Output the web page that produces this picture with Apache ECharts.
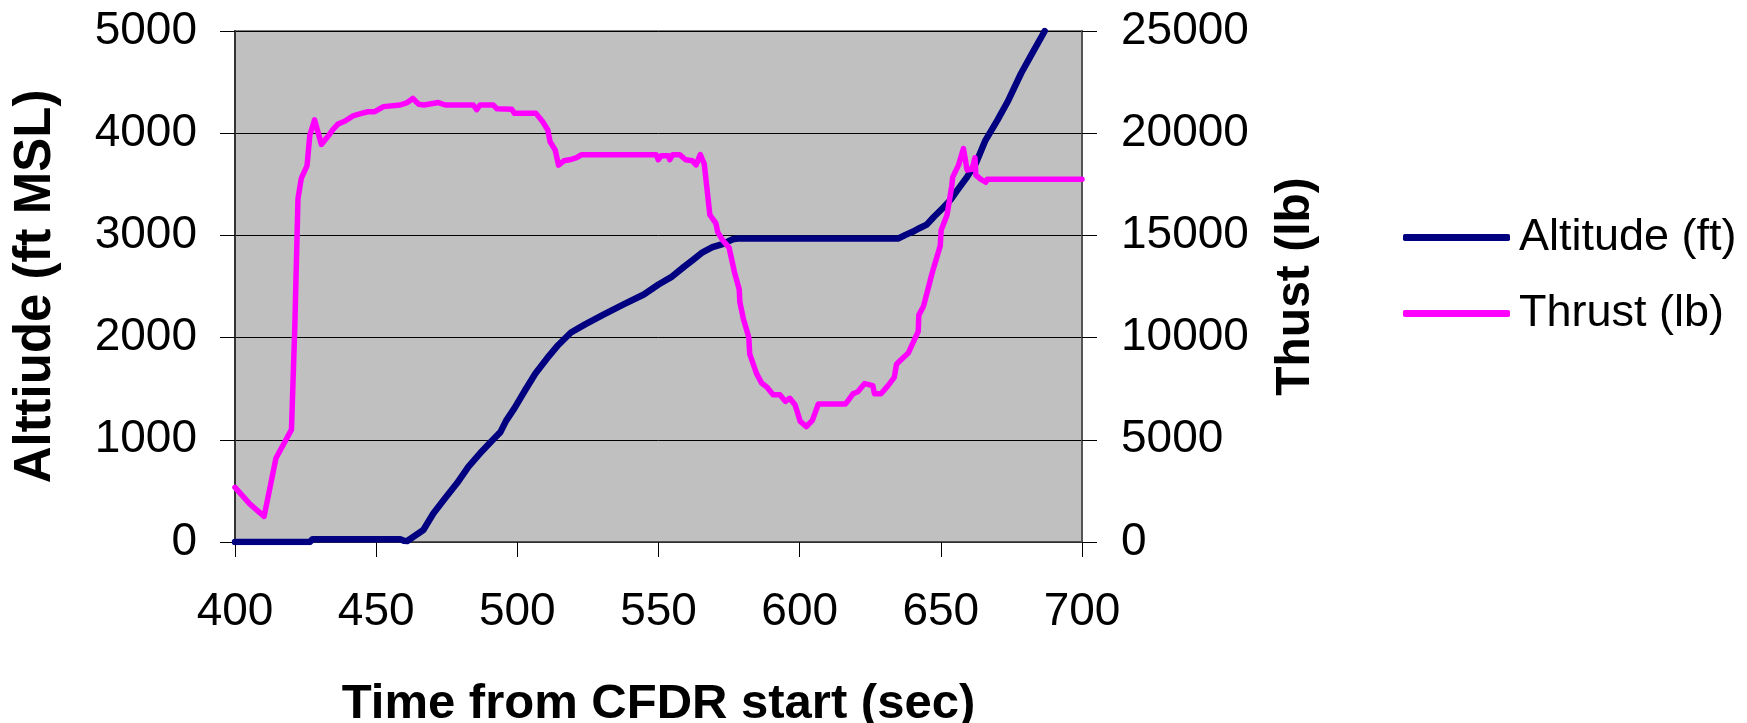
<!DOCTYPE html>
<html>
<head>
<meta charset="utf-8">
<title>Altitude and Thrust vs Time</title>
<script src="https://cdn.jsdelivr.net/npm/echarts@6/dist/echarts.min.js"></script>
<style>
  html, body { margin: 0; padding: 0; background: #ffffff; }
  #chart { width: 1747px; height: 723px; }
</style>
</head>
<body>
<div id="chart"></div>
<script>
// Time axis (seconds from CFDR start)
const timeMin = 400;
const timeMax = 700;
const timeStep = 50;

// Left axis: altitude (ft MSL)
const altMin = 0;
const altMax = 5000;
const altStep = 1000;

// Right axis: thrust (lb)
const thrustMin = 0;
const thrustMax = 25000;
const thrustStep = 5000;

// Altitude samples
const altitudeTime = [
  400, 426.5, 427.5, 458.5, 459.8, 461, 466.7, 470.3, 474.4, 478.6, 482.7, 486.8,
  491, 494, 496, 499, 502.8, 506.4, 510.5, 514.5, 519, 524, 530.5, 537.8,
  544.8, 550, 554.8, 559, 562, 565.6, 569.1, 572.7, 576.3, 578, 635, 637.5,
  640, 642.4, 645, 647.5, 650.8, 653.5, 655.8, 659, 662.5, 665.8, 670, 673.6,
  678.4, 682, 686.8
];
const altitudeFt = [
  0, 0, 28, 28, 12, 10, 117, 281, 427, 574, 737, 868,
  991, 1075, 1185, 1310, 1487, 1648, 1796, 1928, 2050, 2130, 2225, 2327,
  2422, 2520, 2597, 2692, 2756, 2835, 2885, 2915, 2962, 2970, 2970, 3005,
  3035, 3070, 3105, 3180, 3270, 3350, 3440, 3560, 3710, 3930, 4125, 4305,
  4584, 4764, 5000
];

// Thrust samples
const thrustTime = [
  400, 405.3, 410.3, 414.5, 420, 421.2, 422.3, 423.5, 425.5, 426.5, 428.2, 430.6,
  433.5, 434.8, 436.5, 439, 441.8, 444.5, 447, 449.5, 452.6, 458.5, 461, 463,
  465, 467, 470, 472, 474.5, 484.4, 485.6, 486.8, 491.5, 492.7, 498, 499,
  506.6, 509, 510.8, 511.6, 513.4, 514.6, 516.5, 518.5, 521, 522.8, 549.2, 549.9,
  551, 553.5, 554, 555, 557.5, 559.6, 562, 563.3, 564.8, 566.2, 568.2, 570.3,
  571, 572.8, 575, 576.9, 578.6, 578.8, 580, 582, 582.3, 584.7, 586.5, 588.3,
  590.6, 593, 594.9, 596.5, 598.4, 600.2, 602.4, 604.5, 606.6, 616.2, 618.9, 620.6,
  623, 625.9, 626.5, 628.8, 631.3, 633.5, 634.3, 635.8, 638.5, 642, 642.2, 643.9,
  646.3, 647, 649.8, 650.1, 652.2, 653.9, 654.2, 656.3, 658, 659.3, 661.1, 662.1,
  662.4, 664.1, 665.9, 666.5, 700
];
const thrustLb = [
  2670, 1850, 1250, 4095, 5500, 10600, 16800, 17800, 18400, 19900, 20650, 19450,
  19950, 20200, 20450, 20600, 20850, 20960, 21050, 21050, 21300, 21380, 21500, 21700,
  21420, 21380, 21450, 21500, 21380, 21380, 21150, 21380, 21380, 21200, 21170, 20970,
  20970, 20560, 20160, 19580, 19180, 18440, 18650, 18700, 18800, 18950, 18950, 18700,
  18900, 18900, 18700, 18950, 18950, 18700, 18650, 18450, 18950, 18500, 16000, 15600,
  15150, 14750, 14400, 13200, 12350, 11750, 10950, 10000, 9200, 8250, 7780, 7590,
  7200, 7200, 6880, 7030, 6700, 5900, 5650, 5950, 6750, 6750, 7250, 7350,
  7750, 7650, 7250, 7250, 7650, 8050, 8700, 8900, 9250, 10300, 11100, 11550,
  12830, 13200, 14500, 15250, 16000, 17450, 17850, 18450, 19250, 18200, 18250, 18800,
  17950, 17750, 17600, 17750, 17750
];

const seriesNames = ['Altitude (ft)', 'Thrust (lb)'];
const seriesColors = ['#000080', '#FF00FF'];
const xTitle = 'Time from CFDR start (sec)';
const leftTitle = 'Alttiude (ft MSL)';
const rightTitle = 'Thust (lb)';

const pairs = (xs, ys) => xs.map((x, i) => [x, ys[i]]);

const FONT = '"Liberation Sans", Arial, sans-serif';
const plain = (v) => String(v);
const tickLabel = { color: '#000', fontFamily: FONT, fontSize: 46, formatter: plain };
const titleStyle = (size) => ({ color: '#000', fontFamily: FONT, fontSize: size, fontWeight: 'bold' });

const chart = echarts.init(document.getElementById('chart'), null, { renderer: 'canvas' });

chart.setOption({
  animation: false,
  backgroundColor: '#ffffff',
  grid: {
    left: 235, right: 665, top: 31, bottom: 181,
    containLabel: false,
    outerBoundsMode: 'none',
    show: true,
    backgroundColor: '#C0C0C0',
    borderColor: '#808080',
    borderWidth: 2
  },
  legend: {
    orient: 'vertical',
    left: 1403,
    top: 215,
    padding: 0,
    itemWidth: 107,
    itemHeight: 7,
    itemGap: 31,
    data: seriesNames.map((n) => ({ name: n, icon: 'roundRect' })),
    textStyle: { color: '#000', fontFamily: FONT, fontSize: 45, padding: [0, 0, 0, 4] }
  },
  xAxis: {
    type: 'value',
    min: timeMin, max: timeMax, interval: timeStep,
    name: xTitle,
    nameLocation: 'middle',
    nameGap: 138,
    nameTextStyle: titleStyle(49),
    axisLine: { show: true, onZero: false, lineStyle: { color: '#404040', width: 1.5 } },
    axisTick: { show: true, inside: false, length: 15, lineStyle: { color: '#000', width: 1 } },
    axisLabel: Object.assign({ margin: 47 }, tickLabel),
    splitLine: { show: false }
  },
  yAxis: [
    {
      type: 'value',
      position: 'left',
      min: altMin, max: altMax, interval: altStep,
      name: leftTitle,
      nameLocation: 'middle',
      nameRotate: 90,
      nameGap: 174,
      nameTextStyle: titleStyle(51),
      axisLine: { show: true, lineStyle: { color: '#333', width: 2 } },
      axisTick: { show: true, inside: false, length: 15, lineStyle: { color: '#000', width: 1 } },
      axisLabel: Object.assign({ margin: 38 }, tickLabel),
      splitLine: { show: true, lineStyle: { color: '#000', width: 1 } }
    },
    {
      type: 'value',
      position: 'right',
      min: thrustMin, max: thrustMax, interval: thrustStep,
      name: rightTitle,
      nameLocation: 'middle',
      nameRotate: 90,
      nameGap: 190,
      nameTextStyle: titleStyle(48),
      axisLine: { show: true, lineStyle: { color: '#555', width: 2 } },
      axisTick: { show: true, inside: false, length: 15, lineStyle: { color: '#000', width: 1 } },
      axisLabel: Object.assign({ margin: 39 }, tickLabel),
      splitLine: { show: false }
    }
  ],
  series: [
    {
      name: seriesNames[0],
      type: 'line',
      yAxisIndex: 0,
      data: pairs(altitudeTime, altitudeFt),
      symbol: 'none',
      showSymbol: false,
      clip: true,
      color: seriesColors[0],
      lineStyle: { color: seriesColors[0], width: 6.5, join: 'round', cap: 'round' },
      z: 3
    },
    {
      name: seriesNames[1],
      type: 'line',
      yAxisIndex: 1,
      data: pairs(thrustTime, thrustLb),
      symbol: 'none',
      showSymbol: false,
      clip: false,
      color: seriesColors[1],
      lineStyle: { color: seriesColors[1], width: 5.5, join: 'round', cap: 'round' },
      z: 4
    }
  ]
});
</script>
</body>
</html>
